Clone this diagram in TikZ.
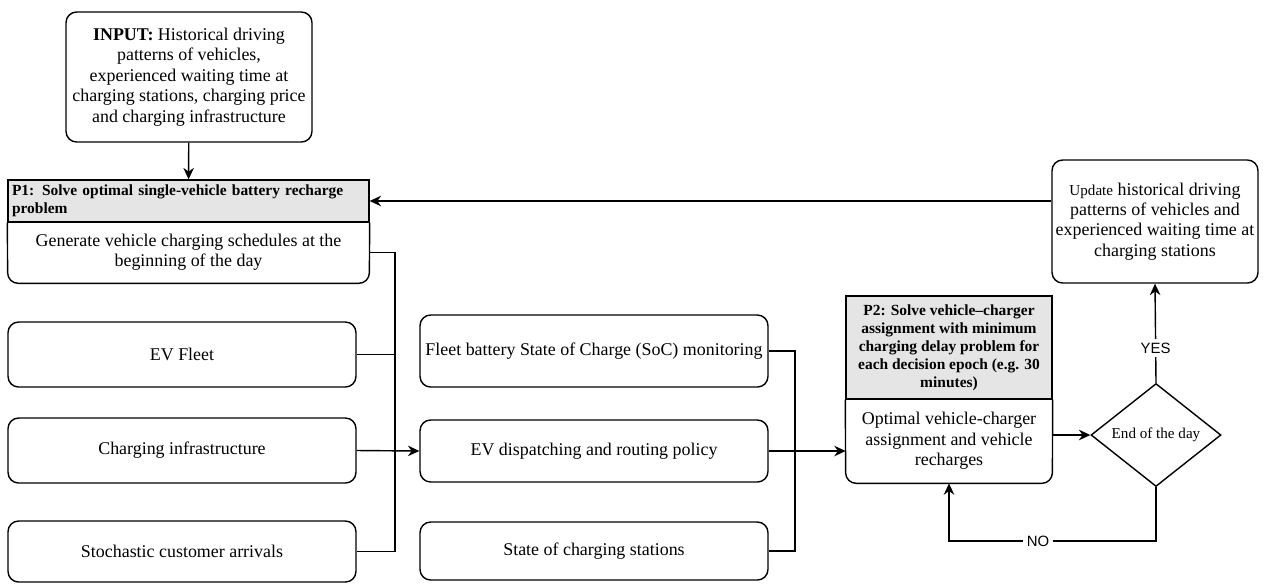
\documentclass[tikz,border=0pt]{standalone}
\usepackage{fontspec}
\setmainfont{Liberation Serif}
\newfontfamily\yesnofont{Liberation Sans}
\usetikzlibrary{shapes.geometric,arrows.meta}

\begin{document}
\begin{tikzpicture}[x=0.02cm,y=-0.02cm,
    box/.style={draw, rounded corners=6pt, line width=0.8pt, align=center, inner sep=1pt, font=\fontsize{10.2}{11.6}\selectfont},
    txt/.style={align=center, inner sep=1pt, font=\fontsize{10.2}{11.6}\selectfont},
    hdr/.style={draw, fill=gray!20, line width=0.8pt, inner sep=2pt, font=\bfseries\fontsize{8.8}{10.2}\selectfont},
    lbl/.style={fill=white, inner sep=2pt, font=\yesnofont\fontsize{8.5}{10}\selectfont},
    line/.style={line width=0.8pt},
    arr/.style={line width=0.8pt, -{Stealth[length=6.5pt,width=6pt]}}]

    \useasboundingbox (0,0) rectangle (1267,583);

    \node[box, minimum width=4.92cm, minimum height=2.6cm](input) at (189,77){\textbf{INPUT:} Historical driving\\patterns of vehicles,\\experienced waiting time at\\charging stations, charging price\\and charging infrastructure};

    \node[hdr, minimum width=7.22cm, minimum height=0.84cm, text width=7.06cm, align=left](p1h) at (188.5,201){P1: Solve optimal single-vehicle battery recharge\\problem};
    \node[txt, minimum width=7.22cm, minimum height=1.22cm](p1b) at (188.5,252.5){Generate vehicle charging schedules at the\\beginning of the day};
    \draw[line, rounded corners=6pt] (p1h.south west) -- (p1b.south west) -- (p1b.south east) -- (p1h.south east);

    \node[box, minimum width=6.96cm, minimum height=1.3cm](fleet) at (182,354.5){EV Fleet};
    \node[box, minimum width=6.96cm, minimum height=1.3cm](infra) at (182,450.5){Charging infrastructure};
    \node[box, minimum width=6.96cm, minimum height=1.22cm](cust) at (182,551.5){Stochastic customer arrivals};

    \node[box, minimum width=6.96cm, minimum height=1.44cm](soc) at (594,351){Fleet battery State of Charge (SoC) monitoring};
    \node[box, minimum width=6.96cm, minimum height=1.24cm](disp) at (594,451){EV dispatching and routing policy};
    \node[box, minimum width=6.96cm, minimum height=1.16cm](state) at (594,551){State of charging stations};

    \node[hdr, minimum width=4.12cm, minimum height=2.06cm, align=center](p2h) at (949,347.5){P2: Solve vehicle--charger\\assignment with minimum\\charging delay problem for\\each decision epoch (e.g. 30\\minutes)};
    \node[txt, minimum width=4.12cm, minimum height=1.68cm](p2b) at (949,441){Optimal vehicle-charger\\assignment and vehicle\\recharges};
    \draw[line, rounded corners=6pt] (p2h.south west) -- (p2b.south west) -- (p2b.south east) -- (p2h.south east);

    \node[draw, diamond, line width=0.8pt, minimum width=2.6cm, minimum height=2.06cm, inner sep=0pt, font=\fontsize{8.6}{10}\selectfont](eod) at (1156,435){End of the day};

    \node[box, minimum width=4.12cm, minimum height=2.46cm](upd) at (1155,221.5){{\fontsize{8.6}{10}\selectfont Update} historical driving\\patterns of vehicles and\\experienced waiting time at\\charging stations};

    \coordinate(jl) at (395,0);
    \coordinate(jm) at (795,0);
    \coordinate(nob) at (1156,541);

    \draw[arr] (input) -- (p1h);
    \draw[arr] (upd.west |- p1h.east) -- (p1h.east);
    \draw[line] (p1b.east) -| (jl |- cust.east) -- (cust.east);
    \draw[line] (fleet.east) -- (fleet.east -| jl);
    \draw[arr] (infra.east) -- (disp.west);
    \draw[line] (soc.east) -| (jm |- state.east) -- (state.east);
    \draw[arr] (disp.east) -- (disp.east -| p2b.west);
    \draw[arr] (eod.west -| p2b.east) -- (eod.west);
    \draw[arr] (eod.north) -- node[lbl, pos=0.35](yes){YES} (upd.south);
    \draw[arr] (eod.south) |- node[lbl, pos=0.785](no){NO} (p2b.south |- nob) -- (p2b.south);

\end{tikzpicture}
\end{document}
